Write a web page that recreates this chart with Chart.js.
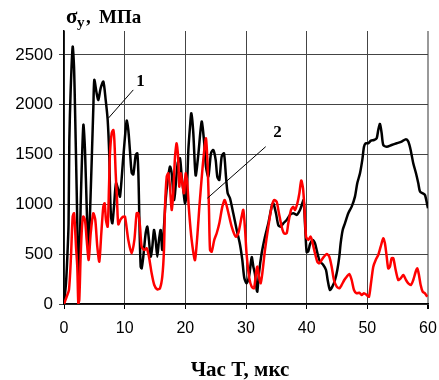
<!DOCTYPE html>
<html>
<head>
<meta charset="utf-8">
<script src="https://cdn.jsdelivr.net/npm/chart.js@4"></script>
<style>
  body { margin: 0; background: #fff; }
  canvas { display: block; }
</style>
</head>
<body>
<canvas id="chart" width="439" height="380"></canvas>
<script>
// curve 1 (black)
const blackTime = [0, 0.33, 0.55, 0.75, 0.88, 1.1, 1.43, 1.65, 1.81, 2.09, 2.36, 2.5, 2.74, 3.19, 3.46, 3.74, 4.0, 4.29, 4.84, 5.0,
  5.38, 5.66, 6.04, 6.48, 6.87, 7.2, 7.47, 7.58, 7.75, 7.97, 8.24, 8.57, 8.95, 9.23, 9.78, 10.33, 10.6, 10.88, 11.15, 11.43,
  11.82, 12.08, 12.25, 12.36, 12.47, 12.64, 12.8, 13.07, 13.46, 13.74, 14.0, 14.29, 14.56, 14.83, 15.1, 15.38, 15.66, 15.93, 16.2, 16.48,
  16.76, 17.1, 17.47, 17.75, 18.13, 18.3, 18.74, 19.12, 19.4, 19.67, 19.94, 20.22, 20.5, 20.77, 20.98, 21.3, 21.7, 22.14, 22.69, 23.07,
  23.4, 23.79, 24.23, 24.61, 25.0, 25.27, 25.6, 25.99, 26.37, 26.7, 26.98, 27.36, 27.9, 28.47, 29.0, 29.39, 29.72, 30.11, 30.54, 30.94,
  31.2, 31.48, 31.76, 31.87, 32.14, 32.58, 33.13, 33.68, 34.23, 34.5, 34.94, 35.32, 35.72, 36.15, 36.7, 37.25, 37.8, 38.35, 38.9, 39.28,
  39.5, 39.75, 40.0, 40.27, 40.55, 40.99, 41.37, 41.65, 41.92, 42.2, 42.74, 43.19, 43.46, 43.84, 44.23, 44.67, 45.05, 45.38, 45.6, 45.94,
  46.31, 46.86, 47.42, 47.96, 48.34, 48.79, 49.17, 49.45, 49.73, 50.16, 50.6, 51.1, 51.54, 51.8, 52.08, 52.36, 52.63, 53.19, 54.0, 54.84,
  55.66, 56.37, 56.75, 57.14, 57.57, 58.02, 58.4, 58.68, 59.12, 59.5, 59.88, 60];
const blackStress = [0, 208, 475, 800, 1646, 2148, 2583, 2382, 1981, 1145, 308, 230, 977, 1797, 1546, 977, 575, 911, 1981, 2249,
  2115, 2048, 2165, 2232, 2048, 1847, 1479, 1145, 877, 810, 977, 1212, 1145, 1078, 1479, 1840, 1747, 1530, 1320, 1300,
  1496, 1513, 1328, 1044, 710, 375, 358, 475, 710, 776, 643, 475, 575, 743, 643, 475, 643, 743, 542, 776,
  1044, 1245, 1379, 1312, 1044, 1111, 1413, 1463, 1278, 1145, 1011, 1100, 1546, 1780, 1914, 1730, 1290, 1500, 1830, 1646,
  1379, 1278, 1513, 1546, 1446, 1278, 1245, 1479, 1513, 1278, 1111, 1061, 911, 743, 600, 442, 260, 208, 290, 470,
  380, 300, 141, 124, 308, 509, 676, 810, 977, 1011, 911, 793, 776, 810, 843, 894, 911, 894, 944, 1011,
  1044, 776, 520, 530, 600, 643, 609, 542, 475, 425, 392, 341, 241, 141, 174, 241, 341, 475, 609, 743,
  810, 911, 977, 1078, 1212, 1312, 1446, 1579, 1613, 1613, 1640, 1646, 1663, 1747, 1807, 1714, 1596, 1579, 1596, 1613,
  1630, 1654, 1630, 1546, 1413, 1312, 1212, 1128, 1111, 1094, 994, 960];

// curve 2 (red)
const redTime = [0, 0.44, 0.82, 1.15, 1.43, 1.65, 1.81, 1.98, 2.19, 2.36, 2.52, 2.74, 2.97, 3.18, 3.46, 3.74, 4.07, 4.4, 4.83, 5.16,
  5.49, 5.82, 6.15, 6.48, 6.7, 6.92, 7.2, 7.42, 7.58, 7.86, 8.13, 8.3, 8.52, 8.74, 8.95, 9.34, 9.77, 10.05, 10.6, 11.15,
  11.6, 11.98, 12.25, 12.53, 12.8, 13.24, 13.63, 14.0, 14.45, 14.88, 15.38, 15.82, 16.2, 16.48, 16.65, 16.93, 17.2, 17.47, 17.75, 18.01,
  18.3, 18.57, 18.84, 19.0, 19.23, 19.5, 19.78, 20.06, 20.32, 20.6, 21.04, 21.6, 22.4, 22.96, 23.4, 23.68, 23.9, 24.07, 24.34, 24.77,
  25.17, 25.6, 26.1, 26.5, 26.98, 27.64, 28.3, 28.73, 29.28, 29.55, 29.83, 30.1, 30.54, 30.94, 31.32, 31.65, 31.87, 32.14, 32.42, 32.69,
  33.13, 33.68, 34.23, 34.66, 35.05, 35.43, 35.88, 36.26, 36.7, 36.97, 37.42, 37.8, 38.08, 38.47, 38.8, 39.1, 39.4, 39.65, 39.9, 40.27,
  40.66, 40.99, 41.37, 41.75, 42.08, 42.47, 42.85, 43.3, 43.73, 44.12, 44.5, 44.95, 45.38, 45.77, 46.2, 46.6, 47.03, 47.42, 47.8, 48.24,
  48.67, 49.07, 49.45, 49.9, 50.27, 50.6, 50.98, 51.38, 51.8, 52.2, 52.63, 52.9, 53.19, 53.45, 53.73, 54.0, 54.28, 54.67, 55.1, 55.5,
  55.93, 56.37, 56.75, 57.19, 57.57, 57.97, 58.24, 58.51, 58.79, 59.12, 59.5, 59.88];
const redStress = [0, 73, 141, 475, 877, 911, 776, 575, 375, 7, 40, 475, 776, 877, 843, 643, 442, 710, 911, 843,
  575, 425, 710, 977, 1011, 843, 776, 1178, 1513, 1714, 1747, 1646, 1312, 1044, 800, 850, 877, 877, 643, 509,
  643, 911, 911, 776, 575, 542, 559, 475, 308, 191, 147, 158, 274, 542, 977, 1278, 1312, 1178, 944, 1111,
  1479, 1613, 1446, 1178, 1312, 1212, 1111, 1312, 1212, 944, 643, 442, 1044, 1446, 1663, 1379, 944, 542, 525, 643,
  710, 810, 977, 1044, 944, 776, 676, 710, 877, 944, 760, 500, 260, 174, 158, 308, 375, 274, 208, 308,
  542, 776, 977, 1044, 1027, 911, 776, 710, 710, 810, 944, 977, 944, 1011, 1111, 1240, 1160, 944, 676, 643,
  676, 609, 509, 425, 408, 442, 475, 502, 475, 375, 241, 174, 158, 191, 241, 274, 301, 241, 141, 107,
  114, 90, 107, 90, 73, 208, 375, 442, 492, 575, 659, 609, 475, 358, 375, 459, 459, 341, 241, 258,
  291, 241, 208, 191, 241, 324, 358, 291, 191, 124, 107, 73];

const yTicks = [0, 500, 1000, 1500, 2000, 2500];
const xTicks = [0, 10, 20, 30, 40, 50, 60];

const toPoints = (xs, ys) => xs.map((x, i) => ({ x: x, y: ys[i] }));

// titles and the "1" / "2" callouts
const extras = {
  id: 'extras',
  afterDraw(chart) {
    const c = chart.ctx;
    const sx = chart.scales.x, sy = chart.scales.y;
    c.save();
    c.fillStyle = '#000';
    c.textBaseline = 'alphabetic';
    c.textAlign = 'left';

    // y title: sigma with subscript y
    c.font = 'bold 21px "Liberation Serif"';
    c.fillText('σ', 66, 23);
    c.font = 'bold 15px "Liberation Serif"';
    c.fillText('y', 77, 27);
    c.font = 'bold 19px "Liberation Serif"';
    c.fillText(',', 86, 23);
    c.fillText('МПа', 99, 23);

    // x title
    c.font = 'bold 21px "Liberation Serif"';
    c.textAlign = 'center';
    c.fillText('Час T, мкс', 240, 376);

    // callouts
    c.strokeStyle = '#000';
    c.lineWidth = 1;
    const lines = [
      { from: [7.3, 1864], to: [11.42, 2149], label: '1', at: [12.6, 2229] },
      { from: [23.62, 1061], to: [33.25, 1579], label: '2', at: [35.2, 1720] }
    ];
    c.font = 'bold 17px "Liberation Serif"';
    c.textBaseline = 'middle';
    lines.forEach(l => {
      c.beginPath();
      c.moveTo(sx.getPixelForValue(l.from[0]), sy.getPixelForValue(l.from[1]));
      c.lineTo(sx.getPixelForValue(l.to[0]), sy.getPixelForValue(l.to[1]));
      c.stroke();
      c.fillText(l.label, sx.getPixelForValue(l.at[0]), sy.getPixelForValue(l.at[1]));
    });
    c.restore();
  }
};

new Chart(document.getElementById('chart').getContext('2d'), {
  type: 'line',
  data: {
    datasets: [
      {
        label: '1',
        data: toPoints(blackTime, blackStress),
        borderColor: '#000000',
        borderWidth: 2.5,
        pointRadius: 0,
        tension: 0.25,
        order: 1
      },
      {
        label: '2',
        data: toPoints(redTime, redStress),
        borderColor: '#ff0000',
        borderWidth: 2.5,
        pointRadius: 0,
        tension: 0.25,
        order: 0
      }
    ]
  },
  options: {
    responsive: false,
    animation: false,
    layout: { padding: { top: 31, right: 11, left: 0, bottom: 0 } },
    plugins: {
      legend: { display: false },
      tooltip: { enabled: false }
    },
    scales: {
      x: {
        type: 'linear',
        min: 0,
        max: 60,
        afterBuildTicks: s => { s.ticks = xTicks.map(v => ({ value: v })); },
        afterFit: s => { s.height = 76; s.paddingLeft = 0; s.paddingRight = 0; },
        grid: {
          color: ctx => ctx.tick && ctx.tick.value === 60 ? '#999' : '#444',
          lineWidth: ctx => ctx.tick && ctx.tick.value === 60 ? 2 : 1,
          tickLength: 5,
          tickColor: '#000'
        },
        border: { color: '#000', width: 1.5 },
        ticks: {
          color: '#000',
          padding: 10,
          maxRotation: 0,
          font: { family: '"Liberation Sans"', size: 16 },
          callback: v => String(v)
        }
      },
      y: {
        min: 0,
        max: 2740,
        afterBuildTicks: s => { s.ticks = yTicks.map(v => ({ value: v })); },
        afterFit: s => { s.width = 64; s.paddingTop = 0; s.paddingBottom = 0; },
        grid: { color: '#444', lineWidth: 1, tickLength: 5, tickColor: '#444' },
        border: { color: '#000', width: 1.5 },
        ticks: {
          color: '#000',
          padding: 6,
          font: { family: '"Liberation Sans"', size: 17 },
          callback: v => String(v)
        }
      }
    }
  },
  plugins: [extras]
});
</script>
</body>
</html>
